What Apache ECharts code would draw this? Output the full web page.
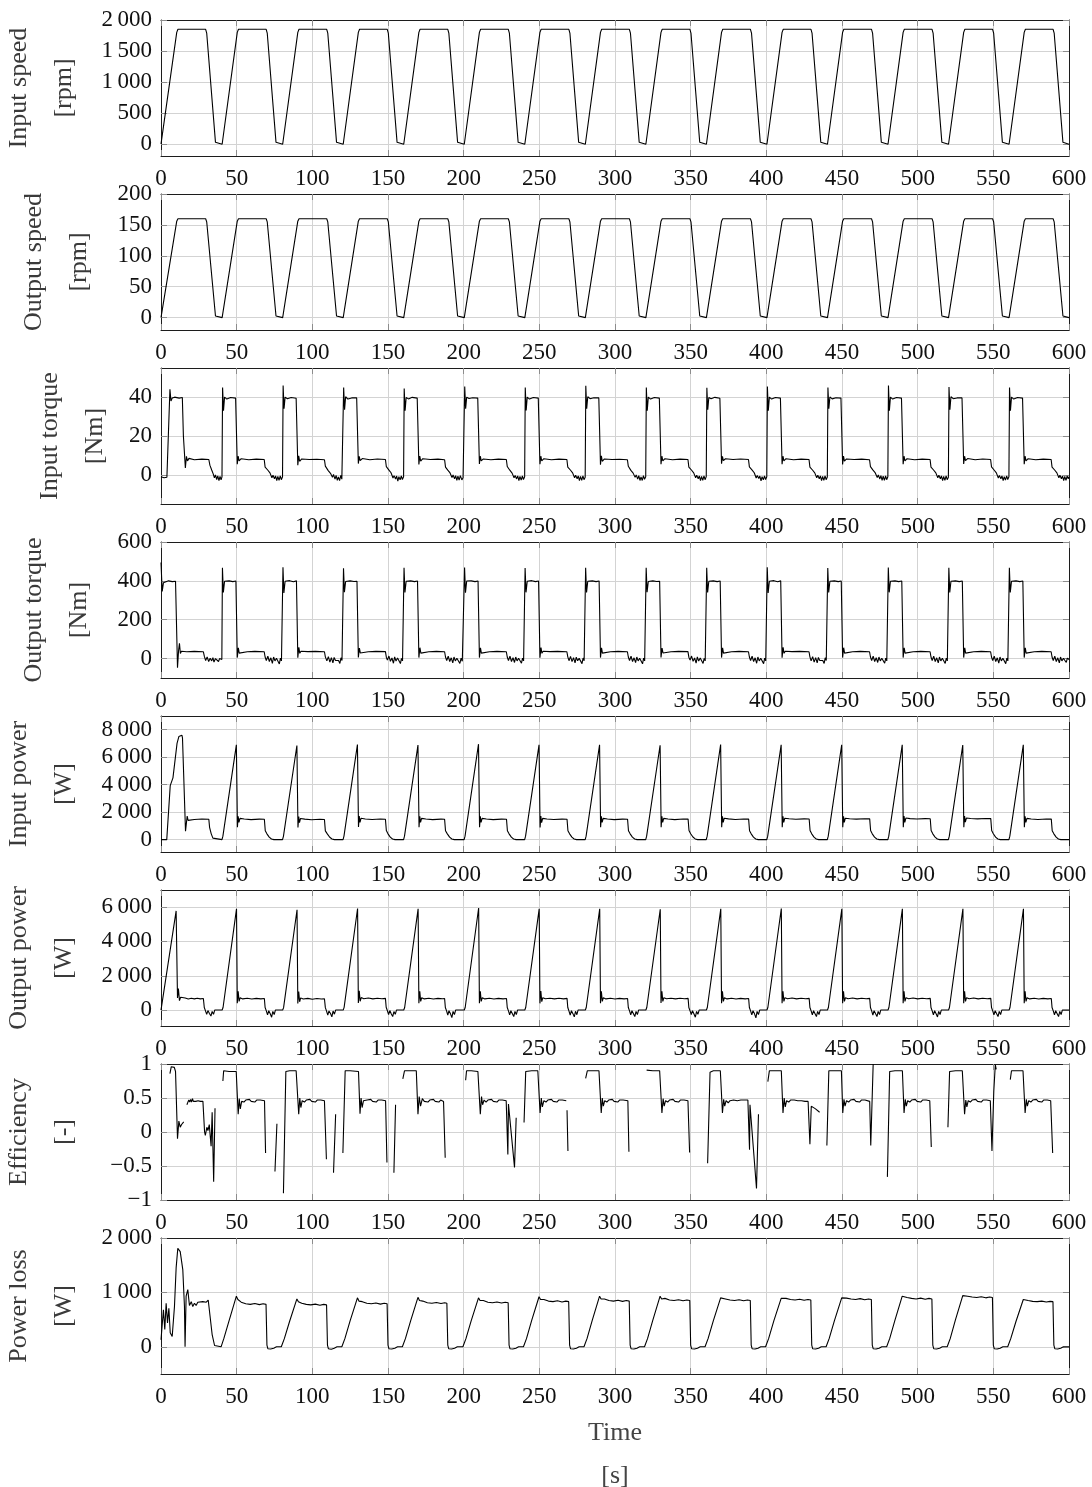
<!DOCTYPE html>
<html>
<head>
<meta charset="utf-8">
<title>Drive cycle measurements</title>
<script src="https://cdn.jsdelivr.net/npm/echarts@6/dist/echarts.min.js"></script>
<style>
  html, body { margin: 0; padding: 0; background: #ffffff; }
  #chart { width: 1092px; height: 1487px; }
</style>
</head>
<body>
<div id="chart"></div>
<script>
// ---------- measured signals (time in s) ----------

// speed profile breakpoints: ramp up, hold, ramp down, standstill (repeated every 40 s)
const speedTime = [
  0, 10.4, 11.2, 29.5, 30.2, 36, 36.7,
  40.4, 50.4, 51.2, 69.5, 70.2, 76, 76.7,
  80.4, 90.4, 91.2, 109.5, 110.2, 116, 116.7,
  120.4, 130.4, 131.2, 149.5, 150.2, 156, 156.7,
  160.4, 170.4, 171.2, 189.5, 190.2, 196, 196.7,
  200.4, 210.4, 211.2, 229.5, 230.2, 236, 236.7,
  240.4, 250.4, 251.2, 269.5, 270.2, 276, 276.7,
  280.4, 290.4, 291.2, 309.5, 310.2, 316, 316.7,
  320.4, 330.4, 331.2, 349.5, 350.2, 356, 356.7,
  360.4, 370.4, 371.2, 389.5, 390.2, 396, 396.7,
  400.4, 410.4, 411.2, 429.5, 430.2, 436, 436.7,
  440.4, 450.4, 451.2, 469.5, 470.2, 476, 476.7,
  480.4, 490.4, 491.2, 509.5, 510.2, 516, 516.7,
  520.4, 530.4, 531.2, 549.5, 550.2, 556, 556.7,
  560.4, 570.4, 571.2, 589.5, 590.2, 596, 596.7,
  600
];

const inputSpeedRpm = [
  0, 1800, 1850, 1850, 1790, 30, 0,
  0, 1800, 1850, 1850, 1790, 30, 0,
  0, 1800, 1850, 1850, 1790, 30, 0,
  0, 1800, 1850, 1850, 1790, 30, 0,
  0, 1800, 1850, 1850, 1790, 30, 0,
  0, 1800, 1850, 1850, 1790, 30, 0,
  0, 1800, 1850, 1850, 1790, 30, 0,
  0, 1800, 1850, 1850, 1790, 30, 0,
  0, 1800, 1850, 1850, 1790, 30, 0,
  0, 1800, 1850, 1850, 1790, 30, 0,
  0, 1800, 1850, 1850, 1790, 30, 0,
  0, 1800, 1850, 1850, 1790, 30, 0,
  0, 1800, 1850, 1850, 1790, 30, 0,
  0, 1800, 1850, 1850, 1790, 30, 0,
  0, 1800, 1850, 1850, 1790, 30, 0,
  0
];

const outputSpeedRpm = [
  0, 156, 160, 160, 155, 2.6, 0,
  0, 156, 160, 160, 155, 2.6, 0,
  0, 156, 160, 160, 155, 2.6, 0,
  0, 156, 160, 160, 155, 2.6, 0,
  0, 156, 160, 160, 155, 2.6, 0,
  0, 156, 160, 160, 155, 2.6, 0,
  0, 156, 160, 160, 155, 2.6, 0,
  0, 156, 160, 160, 155, 2.6, 0,
  0, 156, 160, 160, 155, 2.6, 0,
  0, 156, 160, 160, 155, 2.6, 0,
  0, 156, 160, 160, 155, 2.6, 0,
  0, 156, 160, 160, 155, 2.6, 0,
  0, 156, 160, 160, 155, 2.6, 0,
  0, 156, 160, 160, 155, 2.6, 0,
  0, 156, 160, 160, 155, 2.6, 0,
  0
];

// [time, Nm]
const inputTorque = [
  [0,-1],[1,-0.3],[2,-1.5],[3,-0.5],[3.9,-1.2],[5.9,44],[6.6,38],[7.4,39.5],[9,40],[12,39.5],[14.1,39.8],[14.8,20],[16.1,3.5],[16.8,9.5],[17.5,7.2],[18.5,8.5],[22,7.8],[27,8.1],[31.6,7.9],[32.3,5],[33.5,2.5],[34.5,0.5],[35.3,-1.5],[36,0],[36.8,-2.5],[37.5,-0.5],[38.3,-3],[39,-0.8],[39.7,-2.5],
  [40.3,-1],[40.7,45],[41.3,33],[42,40],[43.5,39],[46,39.8],[49.3,39.5],[50.4,5.5],[51,9.6],[51.6,7.2],[53,8.3],[58,7.8],[63,8.1],[68.2,7.9],[68.8,4],[70.5,2.5],[72,1],[73.3,-1.5],[74,-0.2],[75,-2],[75.7,-0.5],[76.5,-3],[77.2,-0.8],[78,-2.8],[78.8,-0.5],[79.5,-2.5],
  [80.3,-1],[80.7,46],[81.3,34],[82,40],[83.5,39.2],[86,39.8],[89.3,39.4],[90.4,5],[91,9.8],[91.6,7],[93,8.2],[98,7.9],[103,8],[108,7.8],[108.6,4.5],[110.5,2.2],[112,0.8],[113.3,-1.2],[114,0.2],[115,-2.2],[115.7,-0.3],[116.5,-2.8],[117.2,-1],[118,-3],[118.8,-0.3],[119.5,-2.2],
  [120.3,-1.2],[120.7,45],[121.3,33.5],[122,40.2],[123.5,39],[126,39.6],[129.3,39.6],[130.4,5.8],[131,9.5],[131.6,7.3],[133,8.4],[138,7.8],[143,8.2],[148.3,7.9],[148.9,4.2],[150.5,2.6],[152,1.1],[153.3,-1.6],[154,-0.4],[155,-2.1],[155.7,-0.6],[156.5,-3.2],[157.2,-0.9],[158,-2.6],[158.8,-0.6],[159.5,-2.4],
  [160.3,-1],[160.7,44.5],[161.3,33],[162,39.8],[163.5,39.1],[166,39.9],[169.3,39.5],[170.4,5.4],[171,9.7],[171.6,7.1],[173,8.3],[178,7.9],[183,8.1],[187.4,7.8],[188,4],[189.5,2.4],[191,1],[192.3,-1.4],[193,-0.1],[194,-2],[194.7,-0.4],[195.5,-2.9],[196.2,-0.7],[197,-2.7],[197.8,-0.4],[198.8,-2.6],[199.6,-1.5],
  [200.3,-1.1],[200.7,45.5],[201.3,34],[202,40],[203.5,39.3],[206,39.7],[209.3,39.5],[210.4,5.6],[211,9.6],[211.6,7.2],[213,8.2],[218,7.8],[223,8.1],[228.2,7.9],[228.8,4.3],[230.5,2.4],[232,0.9],[233.3,-1.5],[234,-0.3],[235,-2.1],[235.7,-0.5],[236.5,-3],[237.2,-0.8],[238,-2.7],[238.8,-0.6],[239.5,-2.4],
  [240.3,-1],[240.7,45],[241.3,33.2],[242,40],[243.5,39],[246,39.8],[249.3,39.5],[250.4,5.5],[251,9.6],[251.6,7.2],[253,8.3],[258,7.8],[263,8.1],[268.2,7.9],[268.8,4],[270.5,2.5],[272,1],[273.3,-1.5],[274,-0.2],[275,-2],[275.7,-0.5],[276.5,-3],[277.2,-0.8],[278,-2.8],[278.8,-0.5],[279.5,-2.5],
  [280.3,-1.2],[280.7,45.8],[281.3,34],[282,40.2],[283.5,39.2],[286,39.7],[289.3,39.6],[290.4,5.2],[291,9.8],[291.6,7],[293,8.2],[298,7.9],[303,8],[308.2,7.8],[308.8,4.4],[310.5,2.3],[312,0.9],[313.3,-1.3],[314,0],[315,-2.2],[315.7,-0.4],[316.5,-2.9],[317.2,-1],[318,-2.9],[318.8,-0.4],[319.5,-2.3],
  [320.3,-1],[320.7,45],[321.3,33],[322,40],[323.5,39],[326,39.8],[329.3,39.5],[330.4,5.5],[331,9.6],[331.6,7.2],[333,8.3],[338,7.8],[343,8.1],[348.2,7.9],[348.8,4],[350.5,2.5],[352,1],[353.3,-1.5],[354,-0.2],[355,-2],[355.7,-0.5],[356.5,-3],[357.2,-0.8],[358,-2.8],[358.8,-0.5],[359.5,-2.5],
  [360.3,-0.9],[360.7,44.8],[361.3,33.6],[362,39.8],[363.5,39.2],[366,39.9],[369.3,39.4],[370.4,5.7],[371,9.5],[371.6,7.3],[373,8.3],[378,7.9],[383,8.2],[388.2,7.9],[388.8,4.1],[390.5,2.6],[392,1.1],[393.3,-1.6],[394,-0.3],[395,-1.9],[395.7,-0.6],[396.5,-3.1],[397.2,-0.9],[398,-2.6],[398.8,-0.5],[399.5,-2.4],
  [400.3,-1],[400.7,45.5],[401.3,33],[402,40],[403.5,39],[406,39.8],[409.3,39.5],[410.4,5.5],[411,9.6],[411.6,7.2],[413,8.3],[418,7.8],[423,8.1],[428.2,7.9],[428.8,4],[430.5,2.5],[432,1],[433.3,-1.5],[434,-0.2],[435,-2],[435.7,-0.5],[436.5,-3],[437.2,-0.8],[438,-2.8],[438.8,-0.5],[439.5,-2.5],
  [440.3,-1.1],[440.7,45],[441.3,34],[442,40.1],[443.5,39.1],[446,39.7],[449.3,39.5],[450.4,5.4],[451,9.7],[451.6,7.1],[453,8.2],[458,7.9],[463,8.1],[468.2,7.8],[468.8,4.2],[470.5,2.4],[472,1],[473.3,-1.4],[474,-0.1],[475,-2.1],[475.7,-0.4],[476.5,-2.9],[477.2,-0.7],[478,-2.8],[478.8,-0.6],[479.5,-2.5],
  [480.3,-1],[480.7,46],[481.3,33],[482,40],[483.5,39],[486,39.8],[489.3,39.5],[490.4,5.5],[491,9.6],[491.6,7.2],[493,8.3],[498,7.8],[503,8.1],[508.2,7.9],[508.8,4],[510.5,2.5],[512,1],[513.3,-1.5],[514,-0.2],[515,-2],[515.7,-0.5],[516.5,-3],[517.2,-0.8],[518,-2.8],[518.8,-0.5],[519.5,-2.5],
  [520.3,-1.2],[520.7,45.2],[521.3,33.5],[522,40.2],[523.5,39.2],[526,39.6],[529.3,39.6],[530.4,5.6],[531,9.6],[531.6,7.3],[533,8.4],[538,7.8],[543,8.2],[548.2,7.9],[548.8,4.1],[550.5,2.5],[552,1],[553.3,-1.6],[554,-0.3],[555,-2],[555.7,-0.5],[556.5,-3],[557.2,-0.9],[558,-2.7],[558.8,-0.5],[559.5,-2.4],
  [560.3,-1],[560.7,45],[561.3,33],[562,40],[563.5,39],[566,39.8],[569.3,39.5],[570.4,5.5],[571,9.6],[571.6,7.2],[573,8.3],[578,7.8],[583,8.1],[588.2,7.9],[588.8,4],[590.5,2.5],[592,1],[593.3,-1.5],[594,-0.2],[595,-2],[595.7,-0.5],[596.5,-3],[597.2,-0.8],[598,-2.8],[598.8,-0.5],[599.5,-2],[600,-1]
];

// [time, Nm]
const outputTorque = [
  [0,495],[0.8,345],[1.6,390],[2.7,398],[5,400],[7.5,396],[9.6,398],[10.9,-47],[11.6,40],[12.2,78],[12.8,26],[13.5,38],[17,35],[22,37],[28,35],[28.7,10],[29.5,-10],[30.5,8],[31.5,-15],[32.5,2],[33.5,-12],[34.3,5],[35,-18],[36,0],[37,-8],[38,-15],[38.7,0],[39.6,-10],
  [40.2,-5],[40.6,468],[41.2,340],[42,398],[43,392],[45,400],[47.5,396],[49.5,399],[50.4,5],[51.1,55],[51.7,28],[52.5,38],[57,35],[62,37],[68.2,35],[68.8,8],[69.6,-10],[70.6,12],[71.6,-15],[72.6,4],[73.6,-25],[74.4,8],[75.3,-12],[76.3,2],[77.3,-8],[78.2,-28],[78.9,2],[79.6,-12],
  [80.2,-6],[80.6,470],[81.2,338],[82,398],[83,391],[85,401],[87.5,395],[89.5,400],[90.4,4],[91.1,58],[91.7,27],[92.5,38],[97,36],[102,37],[108,35],[108.6,9],[109.6,-12],[110.6,10],[111.6,-18],[112.6,5],[113.6,-22],[114.4,6],[115.3,-10],[116.3,0],[117.3,-10],[118.2,-25],[118.9,4],[119.6,-10],
  [120.2,-5],[120.6,465],[121.2,342],[122,397],[123,393],[125,400],[127.5,397],[129.5,398],[130.4,6],[131.1,54],[131.7,29],[132.5,37],[137,35],[142,37],[148.3,36],[148.9,7],[149.6,-8],[150.6,13],[151.6,-14],[152.6,3],[153.6,-24],[154.4,9],[155.3,-13],[156.3,3],[157.3,-7],[158.2,-26],[158.9,1],[159.6,-12],
  [160.2,-4],[160.6,467],[161.2,340],[162,398],[163,392],[165,400],[167.5,396],[169.5,399],[170.4,5],[171.1,56],[171.7,28],[172.5,38],[177,35],[182,37],[187.4,35],[188,8],[188.8,-10],[189.8,12],[190.8,-15],[191.8,4],[192.8,-22],[193.6,8],[194.5,-12],[195.5,2],[196.5,-8],[197.5,-25],[198.3,2],[199.1,-14],[199.7,-6],
  [200.2,-5],[200.6,469],[201.2,339],[202,399],[203,392],[205,400],[207.5,396],[209.5,399],[210.4,5],[211.1,55],[211.7,28],[212.5,38],[217,35],[222,37],[228.2,35],[228.8,8],[229.6,-10],[230.6,12],[231.6,-15],[232.6,4],[233.6,-20],[234.4,8],[235.3,-12],[236.3,2],[237.3,-8],[238.2,-24],[238.9,2],[239.6,-12],
  [240.2,-6],[240.6,466],[241.2,341],[242,398],[243,391],[245,401],[247.5,396],[249.5,399],[250.4,4],[251.1,57],[251.7,27],[252.5,38],[257,36],[262,37],[268.2,35],[268.8,9],[269.6,-11],[270.6,11],[271.6,-16],[272.6,5],[273.6,-22],[274.4,7],[275.3,-11],[276.3,1],[277.3,-9],[278.2,-26],[278.9,3],[279.6,-11],
  [280.2,-5],[280.6,468],[281.2,340],[282,398],[283,392],[285,400],[287.5,396],[289.5,399],[290.4,5],[291.1,55],[291.7,28],[292.5,38],[297,35],[302,37],[308.2,35],[308.8,8],[309.6,-10],[310.6,12],[311.6,-15],[312.6,4],[313.6,-21],[314.4,8],[315.3,-12],[316.3,2],[317.3,-8],[318.2,-27],[318.9,2],[319.6,-12],
  [320.2,-5],[320.6,467],[321.2,342],[322,397],[323,393],[325,400],[327.5,397],[329.5,398],[330.4,6],[331.1,54],[331.7,29],[332.5,37],[337,35],[342,37],[348.2,36],[348.8,7],[349.6,-8],[350.6,13],[351.6,-14],[352.6,3],[353.6,-23],[354.4,9],[355.3,-13],[356.3,3],[357.3,-7],[358.2,-25],[358.9,1],[359.6,-12],
  [360.2,-5],[360.6,468],[361.2,340],[362,398],[363,392],[365,400],[367.5,396],[369.5,399],[370.4,5],[371.1,55],[371.7,28],[372.5,38],[377,35],[382,37],[388.2,35],[388.8,8],[389.6,-10],[390.6,12],[391.6,-15],[392.6,4],[393.6,-24],[394.4,8],[395.3,-12],[396.3,2],[397.3,-8],[398.2,-26],[398.9,2],[399.6,-12],
  [400.2,-6],[400.6,470],[401.2,338],[402,398],[403,391],[405,401],[407.5,395],[409.5,400],[410.4,4],[411.1,58],[411.7,27],[412.5,38],[417,36],[422,37],[428.2,35],[428.8,9],[429.6,-12],[430.6,10],[431.6,-18],[432.6,5],[433.6,-22],[434.4,6],[435.3,-10],[436.3,0],[437.3,-10],[438.2,-25],[438.9,4],[439.6,-10],
  [440.2,-5],[440.6,466],[441.2,340],[442,398],[443,392],[445,400],[447.5,396],[449.5,399],[450.4,5],[451.1,56],[451.7,28],[452.5,38],[457,35],[462,37],[468.2,35],[468.8,8],[469.6,-10],[470.6,12],[471.6,-15],[472.6,4],[473.6,-20],[474.4,8],[475.3,-12],[476.3,2],[477.3,-8],[478.2,-24],[478.9,2],[479.6,-12],
  [480.2,-4],[480.6,469],[481.2,341],[482,398],[483,392],[485,400],[487.5,396],[489.5,399],[490.4,5],[491.1,55],[491.7,28],[492.5,38],[497,35],[502,37],[508.2,35],[508.8,8],[509.6,-10],[510.6,12],[511.6,-15],[512.6,4],[513.6,-22],[514.4,8],[515.3,-12],[516.3,2],[517.3,-8],[518.2,-25],[518.9,2],[519.6,-12],
  [520.2,-5],[520.6,467],[521.2,340],[522,398],[523,392],[525,400],[527.5,396],[529.5,399],[530.4,5],[531.1,55],[531.7,28],[532.5,38],[537,35],[542,37],[548.2,35],[548.8,8],[549.6,-10],[550.6,12],[551.6,-15],[552.6,4],[553.6,-23],[554.4,8],[555.3,-12],[556.3,2],[557.3,-8],[558.2,-26],[558.9,2],[559.6,-12],
  [560.2,-5],[560.6,468],[561.2,340],[562,398],[563,392],[565,400],[567.5,396],[569.5,399],[570.4,5],[571.1,55],[571.7,28],[572.5,38],[577,35],[582,37],[588.2,35],[588.8,8],[589.6,-10],[590.6,12],[591.6,-15],[592.6,4],[593.6,-22],[594.4,8],[595.3,-12],[596.3,2],[597.3,-8],[598.2,-20],[598.9,2],[600,-5]
];

// [time, W]
const inputPower = [
  [0,0],[3.8,0],[6.1,3930],[7.9,4500],[10.6,7010],[11.8,7500],[12.8,7620],[13.8,7600],[14.2,7400],[16.2,610],[17.3,1720],[17.9,1400],[18.8,1520],[22,1470],[27,1500],[31.6,1480],[32.1,900],[33.2,420],[34.3,110],[35.4,0],
  [40.3,0],[40.9,250],[49.8,6900],[50.5,900],[51,1700],[51.5,1250],[52.2,1550],[53,1450],[55,1500],[59.5,1460],[65,1490],[68.3,1480],[68.9,650],[70,420],[71.5,180],[73,50],[74.6,0],
  [80.3,0],[80.9,240],[89.8,6850],[90.5,880],[91,1680],[91.5,1230],[92.2,1540],[93,1440],[95,1490],[99.5,1450],[105,1480],[108,1470],[108.6,640],[110,400],[111.5,170],[113,45],[114.6,0],
  [120.3,0],[120.9,260],[129.8,6920],[130.5,920],[131,1720],[131.5,1260],[132.2,1560],[133,1460],[135,1500],[139.5,1470],[145,1500],[148.3,1480],[148.9,660],[150,420],[151.5,180],[153,50],[154.6,0],
  [160.3,0],[160.9,250],[169.8,6880],[170.5,900],[171,1700],[171.5,1250],[172.2,1550],[173,1450],[175,1500],[179.5,1460],[185,1490],[187.4,1480],[188,650],[189.2,420],[190.7,180],[192.2,50],[193.8,0],
  [200.3,0],[200.9,250],[209.8,6950],[210.5,900],[211,1700],[211.5,1250],[212.2,1550],[213,1450],[215,1500],[219.5,1460],[225,1490],[228.3,1480],[228.9,650],[230,420],[231.5,180],[233,50],[234.6,0],
  [240.3,0],[240.9,250],[249.8,6900],[250.5,880],[251,1710],[251.5,1240],[252.2,1550],[253,1460],[255,1500],[259.5,1470],[265,1490],[268.3,1480],[268.9,650],[270,420],[271.5,180],[273,50],[274.6,0],
  [280.3,0],[280.9,250],[289.8,6900],[290.5,900],[291,1700],[291.5,1250],[292.2,1550],[293,1450],[295,1500],[299.5,1460],[305,1490],[308.3,1480],[308.9,650],[310,420],[311.5,180],[313,50],[314.6,0],
  [320.3,0],[320.9,250],[329.8,6870],[330.5,910],[331,1700],[331.5,1260],[332.2,1550],[333,1450],[335,1500],[339.5,1460],[345,1500],[348.3,1490],[348.9,660],[350,430],[351.5,190],[353,50],[354.6,0],
  [360.3,0],[360.9,250],[369.8,6920],[370.5,900],[371,1700],[371.5,1250],[372.2,1560],[373,1460],[375,1510],[379.5,1470],[385,1500],[388.3,1490],[388.9,650],[390,420],[391.5,180],[393,50],[394.6,0],
  [400.3,0],[400.9,250],[409.8,6900],[410.5,900],[411,1700],[411.5,1250],[412.2,1560],[413,1470],[415,1520],[419.5,1480],[425,1510],[428.3,1500],[428.9,660],[430,420],[431.5,180],[433,50],[434.6,0],
  [440.3,0],[440.9,250],[449.8,6900],[450.5,900],[451,1700],[451.5,1260],[452.2,1560],[453,1470],[455,1520],[459.5,1490],[465,1520],[468.3,1510],[468.9,660],[470,420],[471.5,180],[473,50],[474.6,0],
  [480.3,0],[480.9,250],[489.8,6900],[490.5,900],[491,1720],[491.5,1260],[492.2,1570],[493,1480],[495,1530],[499.5,1500],[505,1530],[508.3,1520],[508.9,660],[510,420],[511.5,180],[513,50],[514.6,0],
  [520.3,0],[520.9,250],[529.8,6880],[530.5,900],[531,1720],[531.5,1270],[532.2,1570],[533,1490],[535,1540],[539.5,1510],[545,1540],[548.3,1530],[548.9,670],[550,430],[551.5,180],[553,50],[554.6,0],
  [560.3,0],[560.9,250],[569.8,6900],[570.5,900],[571,1700],[571.5,1250],[572.2,1550],[573,1460],[575,1500],[579.5,1470],[585,1500],[588.3,1490],[588.9,650],[590,420],[591.5,180],[593,50],[594.6,0],[600,0]
];

// [time, W]
const outputPower = [
  [0,0],[10,5780],[10.9,700],[11.5,1250],[12.2,550],[13,750],[14,650],[16,700],[18,640],[20,690],[22,650],[24,690],[26,650],[28,670],[28.6,150],[29.4,-50],[30.2,-250],[31,-30],[32,-200],[33,-350],[33.8,-80],[34.7,-250],[35.5,0],
  [40.4,0],[41,150],[49.9,5900],[50.4,400],[51,1100],[51.6,500],[52.3,720],[54,650],[57,690],[60,640],[63,680],[66,650],[68.3,670],[68.8,150],[69.6,-50],[70.4,-280],[71.2,-40],[72.2,-220],[73.1,-420],[73.9,-80],[74.8,-260],[75.6,0],
  [80.4,0],[81,140],[89.9,5850],[90.4,380],[91,1080],[91.6,480],[92.3,710],[94,640],[97,680],[100,630],[103,670],[106,640],[108,660],[108.6,140],[109.4,-60],[110.2,-300],[111,-50],[112,-200],[112.9,-400],[113.7,-60],[114.6,-240],[115.4,0],
  [120.4,0],[121,160],[129.9,5920],[130.4,410],[131,1120],[131.6,510],[132.3,730],[134,660],[137,700],[140,650],[143,690],[146,660],[148.3,680],[148.8,160],[149.6,-40],[150.4,-270],[151.2,-30],[152.2,-230],[153.1,-380],[153.9,-90],[154.8,-250],[155.6,0],
  [160.4,0],[161,150],[169.9,5900],[170.4,400],[171,1100],[171.6,500],[172.3,720],[174,650],[177,690],[180,640],[183,680],[186,660],[187.4,670],[187.9,150],[188.7,-50],[189.5,-290],[190.3,-40],[191.3,-220],[192.2,-440],[193,-80],[193.9,-260],[194.7,0],
  [200.4,0],[201,150],[209.9,5950],[210.4,400],[211,1100],[211.6,500],[212.3,720],[214,650],[217,690],[220,640],[223,680],[226,650],[228.3,670],[228.8,150],[229.6,-50],[230.4,-280],[231.2,-40],[232.2,-220],[233.1,-380],[233.9,-80],[234.8,-260],[235.6,0],
  [240.4,0],[241,150],[249.9,5900],[250.4,390],[251,1110],[251.6,490],[252.3,720],[254,660],[257,690],[260,650],[263,690],[266,650],[268.3,680],[268.8,150],[269.6,-60],[270.4,-300],[271.2,-40],[272.2,-210],[273.1,-400],[273.9,-70],[274.8,-270],[275.6,0],
  [280.4,0],[281,150],[289.9,5900],[290.4,400],[291,1100],[291.6,500],[292.3,720],[294,650],[297,690],[300,640],[303,680],[306,650],[308.3,670],[308.8,150],[309.6,-50],[310.4,-280],[311.2,-40],[312.2,-220],[313.1,-380],[313.9,-80],[314.8,-260],[315.6,0],
  [320.4,0],[321,150],[329.9,5880],[330.4,410],[331,1090],[331.6,500],[332.3,720],[334,660],[337,690],[340,650],[343,690],[346,660],[348.3,680],[348.8,150],[349.6,-50],[350.4,-260],[351.2,-40],[352.2,-230],[353.1,-420],[353.9,-80],[354.8,-250],[355.6,0],
  [360.4,0],[361,150],[369.9,5900],[370.4,400],[371,1100],[371.6,500],[372.3,720],[374,650],[377,690],[380,640],[383,680],[386,650],[388.3,670],[388.8,150],[389.6,-50],[390.4,-280],[391.2,-40],[392.2,-220],[393.1,-460],[393.9,-80],[394.8,-260],[395.6,0],
  [400.4,0],[401,150],[409.9,5920],[410.4,400],[411,1100],[411.6,500],[412.3,720],[414,660],[417,700],[420,650],[423,690],[426,660],[428.3,680],[428.8,150],[429.6,-50],[430.4,-280],[431.2,-40],[432.2,-220],[433.1,-380],[433.9,-80],[434.8,-260],[435.6,0],
  [440.4,0],[441,150],[449.9,5900],[450.4,400],[451,1100],[451.6,500],[452.3,720],[454,660],[457,700],[460,650],[463,690],[466,660],[468.3,680],[468.8,150],[469.6,-50],[470.4,-300],[471.2,-40],[472.2,-220],[473.1,-380],[473.9,-80],[474.8,-260],[475.6,0],
  [480.4,0],[481,150],[489.9,5900],[490.4,400],[491,1100],[491.6,500],[492.3,720],[494,660],[497,700],[500,650],[503,690],[506,660],[508.3,680],[508.8,150],[509.6,-50],[510.4,-280],[511.2,-40],[512.2,-220],[513.1,-400],[513.9,-80],[514.8,-260],[515.6,0],
  [520.4,0],[521,150],[529.9,5900],[530.4,400],[531,1100],[531.6,500],[532.3,720],[534,660],[537,700],[540,650],[543,690],[546,660],[548.3,680],[548.8,150],[549.6,-50],[550.4,-280],[551.2,-40],[552.2,-220],[553.1,-380],[553.9,-80],[554.8,-260],[555.6,0],
  [560.4,0],[561,150],[569.9,5900],[570.4,400],[571,1100],[571.6,500],[572.3,720],[574,650],[577,690],[580,640],[583,680],[586,650],[588.3,670],[588.8,150],[589.6,-50],[590.4,-280],[591.2,-40],[592.2,-220],[593.1,-380],[593.9,-80],[594.8,-260],[595.6,0],[600,0]
];

// [time, -]; null leaves a gap where the ratio is undefined
const efficiency = [
  [5.9,0.86],[6.8,0.96],[7.8,0.985],[8.8,0.95],[9.6,0.89],[10.9,-0.1],[11.8,0.16],[12.7,0.07],[13.6,0.11],[15,0.15],[15.1,null],
  [17.1,0.4],[17.8,0.44],[18.4,0.47],[19,0.44],[19.6,0.48],[20.2,0.44],[20.8,0.49],[21.4,0.45],[22,0.47],[23,0.45],[24.5,0.46],[26,0.45],[27.7,0.45],[28.8,0],[29.3,-0.05],[30.3,0.07],[31,0.02],[31.9,0.11],[33.1,-0.21],[33.8,0.29],[34.8,-0.73],[35.7,0.35],[35.8,null],
  [40.9,0.75],[41.4,0.9],[45,0.89],[49.7,0.89],[51,0.26],[51.7,0.49],[52.4,0.34],[53.3,0.45],[54.8,0.44],[56,0.47],[57.2,0.45],[58.4,0.48],[59.6,0.45],[60.8,0.47],[62,0.44],[63.2,0.47],[64.4,0.45],[65.6,0.47],[66.8,0.45],[68.4,0.46],[69.1,-0.31],[69.2,null],
  [75.3,-0.58],[76.6,0.12],[76.7,null],
  [80.9,-0.9],[82.5,0.89],[85,0.9],[89.3,0.9],[91,0.26],[91.7,0.5],[92.4,0.36],[93.3,0.46],[94.8,0.44],[96,0.47],[97.2,0.45],[98.4,0.48],[99.6,0.45],[100.8,0.47],[102,0.44],[103.2,0.47],[104.4,0.45],[105.6,0.47],[106.8,0.45],[108,0.46],[109.3,-0.4],[109.4,null],
  [114,-0.6],[115.4,0.26],[115.5,null],
  [120.2,-0.31],[121.7,0.9],[125,0.9],[130.5,0.89],[131.5,0.27],[132.2,0.5],[132.9,0.36],[133.8,0.46],[135,0.44],[136.2,0.47],[137.4,0.45],[138.6,0.48],[139.8,0.45],[141,0.47],[142.2,0.44],[143.4,0.47],[144.6,0.45],[145.8,0.47],[147,0.45],[148.4,0.46],[149.3,-0.45],[149.4,null],
  [153.9,-0.6],[155,0.4],[155.1,null],
  [159.8,0.78],[160.9,0.9],[165,0.9],[168.7,0.9],[169.8,0.26],[170.6,0.52],[171.5,0.38],[172.7,0.49],[174,0.45],[175.2,0.47],[176.4,0.44],[177.6,0.47],[178.8,0.45],[180,0.48],[181.2,0.45],[182.4,0.47],[183.6,0.44],[184.8,0.47],[186,0.45],[186.7,0.45],[187.8,-0.38],[187.9,null],
  [201.3,0.76],[201.9,0.9],[205,0.9],[209.4,0.89],[211,0.26],[211.8,0.52],[212.5,0.4],[213.5,0.47],[214.8,0.44],[216,0.47],[217.2,0.45],[218.4,0.48],[219.6,0.45],[220.8,0.47],[222,0.44],[223.2,0.47],[224.4,0.45],[225.6,0.47],[226.8,0.45],[228.1,0.46],[229.2,-0.33],[229.6,0.41],[233.6,-0.52],[234.7,0.21],[234.8,null],
  [239.9,0.14],[241,0.89],[245,0.9],[249,0.9],[250.5,0.28],[251.3,0.5],[252,0.37],[253,0.46],[254.4,0.44],[255.6,0.47],[256.8,0.45],[258,0.48],[259.2,0.45],[260.4,0.47],[261.6,0.44],[262.8,0.47],[264,0.45],[265.2,0.47],[266.4,0.45],[267.8,0.46],[267.9,null],[268.3,0.32],[268.9,-0.28],[269,null],
  [280.6,0.79],[281.7,0.9],[285,0.9],[289.4,0.9],[290.9,0.28],[291.6,0.5],[292.3,0.38],[293.2,0.46],[294.6,0.44],[295.8,0.47],[297,0.45],[298.2,0.48],[299.4,0.45],[300.6,0.47],[301.8,0.44],[303,0.47],[304.2,0.45],[305.4,0.47],[306.6,0.45],[308.5,0.46],[309.2,-0.29],[309.3,null],
  [320.9,0.91],[325,0.9],[329.5,0.9],[331,0.28],[331.8,0.49],[332.5,0.38],[333.4,0.46],[334.8,0.44],[336,0.47],[337.2,0.45],[338.4,0.48],[339.6,0.45],[340.8,0.47],[342,0.44],[343.2,0.47],[344.4,0.45],[345.6,0.47],[346.8,0.45],[348.2,0.46],[349.3,-0.3],[349.4,null],
  [361.2,-0.46],[362.8,0.88],[365,0.9],[369.6,0.9],[371,0.28],[371.8,0.48],[372.5,0.38],[373.4,0.46],[374.8,0.43],[376,0.46],[377.2,0.44],[378.4,0.47],[379.6,0.45],[380.8,0.46],[382,0.44],[383.2,0.47],[384.4,0.45],[385.6,0.47],[386.8,0.46],[387.8,0.47],[388.9,-0.26],[389.2,0.4],[393.5,-0.83],[394.8,0.26],[394.9,null],
  [401,0.74],[402,0.9],[405,0.9],[409.9,0.9],[411,0.28],[411.8,0.5],[412.5,0.37],[413.4,0.46],[414.8,0.44],[416,0.47],[417.2,0.45],[418.4,0.47],[419.6,0.45],[420.8,0.46],[422,0.44],[423.2,0.46],[424.4,0.44],[425.6,0.45],[426.8,0.43],[427.6,0.45],[428.8,-0.18],[429.7,0.38],[432.5,0.34],[435.2,0.29],[435.3,null],
  [440,-0.2],[441.3,0.9],[445,0.9],[449.6,0.9],[450.5,0.28],[451.3,0.48],[452,0.38],[453,0.46],[454.4,0.44],[455.6,0.47],[456.8,0.45],[458,0.48],[459.2,0.45],[460.4,0.47],[461.6,0.44],[462.8,0.47],[464,0.45],[465.2,0.47],[466.4,0.45],[468.3,0.45],[469,-0.2],[470.6,1],[470.7,null],
  [480,-0.66],[481.5,0.89],[485,0.9],[489.9,0.9],[491,0.28],[491.8,0.48],[492.5,0.38],[493.4,0.46],[494.8,0.44],[496,0.47],[497.2,0.45],[498.4,0.48],[499.6,0.45],[500.8,0.47],[502,0.44],[503.2,0.47],[504.4,0.45],[505.6,0.47],[506.8,0.45],[508,0.46],[509,-0.22],[509.1,null],
  [520,0.07],[521.1,0.89],[525,0.9],[529.5,0.9],[531,0.26],[531.8,0.47],[532.5,0.37],[533.4,0.46],[534.8,0.44],[536,0.47],[537.2,0.45],[538.4,0.48],[539.6,0.45],[540.8,0.47],[542,0.44],[543.2,0.47],[544.4,0.45],[545.6,0.47],[546.8,0.45],[548,0.46],[549.1,-0.28],[550.3,0.6],[551.3,0.99],[551.9,0.92],[552,null],
  [561.2,0.77],[562,0.9],[565,0.9],[569.6,0.9],[571,0.28],[571.8,0.48],[572.5,0.38],[573.4,0.46],[574.8,0.44],[576,0.47],[577.2,0.45],[578.4,0.48],[579.6,0.45],[580.8,0.47],[582,0.44],[583.2,0.47],[584.4,0.45],[585.6,0.47],[586.8,0.45],[587.9,0.46],[589.2,-0.31]
];

// [time, W]
const powerLoss = [
  [0,130],[0.8,130],[1.6,680],[2.5,320],[3.4,800],[4.3,440],[5.2,710],[6.1,260],[7.4,190],[8.9,740],[10,1450],[11.1,1810],[12.7,1750],[14.4,1420],[15.5,740],[15.9,0],[16.6,930],[17.7,1050],[18.8,760],[20,830],[21,740],[22.1,800],[23.2,760],[24.3,820],[25.4,790],[27.6,830],[29.9,820],[31.2,860],[32,880],[33.8,225],[35.4,24],[36.5,0],[39.7,0],
  [40,0],[41.5,150],[45,480],[49.8,930],[50.8,870],[53,820],[56,790],[59,780],[62,795],[65,775],[67.5,790],[69.4,780],[70,30],[70.6,-35],[72.5,-40],[74.5,-25],[76.3,0],[79.5,0],
  [80,0],[81.5,150],[85,470],[89.8,880],[90.8,830],[93,800],[96,780],[99,770],[102,785],[105,765],[107.5,780],[109.4,770],[110,30],[110.6,-35],[112.5,-45],[114.5,-25],[116.3,0],[119.5,0],
  [120,0],[121.5,150],[125,480],[129.8,900],[130.8,840],[133,830],[136,800],[139,790],[142,805],[145,785],[147.5,800],[149.4,790],[150,30],[150.6,-35],[152.5,-40],[154.5,-25],[156.3,0],[159.5,0],
  [160,0],[161.5,150],[165,480],[169.8,910],[170.8,850],[173,840],[176,810],[179,800],[182,815],[185,795],[187.5,810],[188.9,800],[189.5,30],[190.1,-35],[192,-40],[194,-25],[195.8,0],[199.5,0],
  [200,0],[201.5,150],[205,480],[209.8,900],[210.8,850],[213,850],[216,820],[219,810],[222,825],[225,805],[227.5,820],[229.4,810],[230,30],[230.6,-35],[232.5,-40],[234.5,-25],[236.3,0],[239.5,0],
  [240,0],[241.5,150],[245,490],[249.8,920],[250.8,870],[253,870],[256,840],[259,830],[262,845],[265,825],[267.5,840],[269.4,830],[270,30],[270.6,-35],[272.5,-40],[274.5,-25],[276.3,0],[279.5,0],
  [280,0],[281.5,150],[285,490],[289.8,930],[290.8,880],[293,880],[296,850],[299,840],[302,855],[305,835],[307.5,850],[309.4,840],[310,30],[310.6,-35],[312.5,-40],[314.5,-25],[316.3,0],[319.5,0],
  [320,0],[321.5,150],[325,490],[329.8,930],[330.8,880],[333,890],[336,860],[339,850],[342,865],[345,845],[347.5,860],[349.4,850],[350,30],[350.6,-35],[352.5,-40],[354.5,-25],[356.3,0],[359.5,0],
  [360,0],[361.5,150],[365,480],[369.8,900],[370.8,870],[373,880],[376,860],[379,850],[382,865],[385,845],[387.5,860],[389.4,850],[390,30],[390.6,-35],[392.5,-40],[394.5,-25],[396.3,0],[399.5,0],
  [400,0],[401.5,150],[405,480],[409.8,890],[410.8,870],[413,890],[416,870],[419,860],[422,875],[425,855],[427.5,870],[429.4,860],[430,30],[430.6,-35],[432.5,-40],[434.5,-25],[436.3,0],[439.5,0],
  [440,0],[441.5,150],[445,480],[449.8,900],[450.8,880],[453,895],[456,880],[459,870],[462,885],[465,865],[467.5,880],[469.4,870],[470,30],[470.6,-35],[472.5,-40],[474.5,-25],[476.3,0],[479.5,0],
  [480,0],[481.5,150],[485,490],[489.8,930],[490.8,900],[493,905],[496,890],[499,880],[502,895],[505,875],[507.5,890],[509.4,880],[510,30],[510.6,-35],[512.5,-40],[514.5,-25],[516.3,0],[519.5,0],
  [520,0],[521.5,150],[525,500],[529.8,940],[530.8,920],[533,930],[536,915],[539,905],[542,920],[545,900],[547.5,915],[549.4,905],[550,30],[550.6,-35],[552.5,-40],[554.5,-25],[556.3,0],[559.5,0],
  [560,0],[561.5,150],[565,470],[569.8,870],[570.8,850],[573,850],[576,835],[579,830],[582,840],[585,825],[587.5,835],[589.4,830],[590,30],[590.6,-35],[592.5,-40],[594.5,-25],[596.3,0],[600,0]
];

// ---------- tick values of each vertical axis ----------
const inputSpeedTicks   = [0, 500, 1000, 1500, 2000];
const outputSpeedTicks  = [0, 50, 100, 150, 200];
const inputTorqueTicks  = [0, 20, 40];
const outputTorqueTicks = [0, 200, 400, 600];
const inputPowerTicks   = [0, 2000, 4000, 6000, 8000];
const outputPowerTicks  = [0, 2000, 4000, 6000];
const efficiencyTicks   = [-1, -0.5, 0, 0.5, 1];
const powerLossTicks    = [0, 1000, 2000];

// ---------- layout ----------
const FONT = '"Liberation Serif", "Times New Roman", Times, serif';
const LEFT = 161, RIGHT = 23, TOP0 = 20, STEP = 174, PANEL_H = 136;

function pairUp(xs, ys) { return xs.map((x, i) => [x, ys[i]]); }

// numbers are typeset with a thin-space thousands separator and a true minus sign
function fmt(v) {
  const a = Math.abs(v);
  let s = String(a);
  if (a >= 1000) s = s.replace(/\B(?=(\d{3})+(?!\d))/g, '\u2009');
  return (v < 0 ? '\u2212' : '') + s;
}

const panels = [
  { label: 'Input speed\n[rpm]',  data: pairUp(speedTime, inputSpeedRpm),  range: [-190, 2000], ticks: inputSpeedTicks,   gap: 74 },
  { label: 'Output speed\n[rpm]', data: pairUp(speedTime, outputSpeedRpm), range: [-20, 200],   ticks: outputSpeedTicks,  gap: 59 },
  { label: 'Input torque\n[Nm]',  data: inputTorque,  range: [-15, 55],    ticks: inputTorqueTicks,  gap: 42 },
  { label: 'Output torque\n[Nm]', data: outputTorque, range: [-100, 600],  ticks: outputTorqueTicks, gap: 59 },
  { label: 'Input power\n[W]',    data: inputPower,   range: [-900, 9000], ticks: inputPowerTicks,   gap: 74 },
  { label: 'Output power\n[W]',   data: outputPower,  range: [-930, 7000], ticks: outputPowerTicks,  gap: 74 },
  { label: 'Efficiency\n[-]',     data: efficiency,   range: [-1, 1],      ticks: efficiencyTicks,   gap: 74 },
  { label: 'Power loss\n[W]',     data: powerLoss,    range: [-500, 2000], ticks: powerLossTicks,    gap: 74 }
];

const AXIS_COLOR = '#1c1c1c';
const TICK_COLOR = '#8c8c8c';
const GRID_COLOR = '#d3d3d3';

const grids = [], xAxes = [], yAxes = [], series = [];

panels.forEach((p, i) => {
  const last = i === panels.length - 1;
  grids.push({ left: LEFT, right: RIGHT, top: TOP0 + STEP * i, height: PANEL_H, containLabel: false, outerBoundsMode: 'none' });

  const xCommon = () => ({
    gridIndex: i, type: 'value', min: 0, max: 600, interval: 50,
    axisLine: { show: true, onZero: false, lineStyle: { color: AXIS_COLOR, width: 1 } },
    axisTick: { show: true, inside: true, length: 6, lineStyle: { color: TICK_COLOR, width: 1 } }
  });
  xAxes.push(Object.assign(xCommon(), {
    position: 'bottom',
    axisLabel: { show: true, margin: 11, fontFamily: FONT, fontSize: 23, color: '#111', lineHeight: 23 },
    splitLine: { show: true, lineStyle: { color: GRID_COLOR, width: 1 } },
    name: last ? 'Time\n[s]' : '',
    nameLocation: 'middle',
    nameGap: 38,
    nameTextStyle: { fontFamily: FONT, fontSize: 26, lineHeight: 43, color: '#444' }
  }));
  xAxes.push(Object.assign(xCommon(), {
    position: 'top',
    axisLabel: { show: false },
    splitLine: { show: false }
  }));

  const yCommon = () => ({
    gridIndex: i, type: 'value', min: p.range[0], max: p.range[1],
    axisLine: { show: true, onZero: false, lineStyle: { color: AXIS_COLOR, width: 1 } },
    axisTick: { show: true, inside: true, length: 6, customValues: p.ticks, lineStyle: { color: TICK_COLOR, width: 1 } }
  });
  yAxes.push(Object.assign(yCommon(), {
    position: 'left',
    axisLabel: { show: true, customValues: p.ticks, formatter: fmt, margin: 9, fontFamily: FONT, fontSize: 23, color: '#111' },
    splitLine: { show: true, lineStyle: { color: GRID_COLOR, width: 1 } },
    name: p.label,
    nameLocation: 'middle',
    nameRotate: 90,
    nameGap: p.gap,
    nameTextStyle: { fontFamily: FONT, fontSize: 26, lineHeight: 45, color: '#3a3a3a', align: 'center' }
  }));
  yAxes.push(Object.assign(yCommon(), {
    position: 'right',
    axisLabel: { show: false },
    splitLine: { show: false }
  }));

  series.push({
    type: 'line',
    xAxisIndex: 2 * i,
    yAxisIndex: 2 * i,
    data: p.data.map(d => [d[0], d[1] === null ? '-' : d[1]]),
    showSymbol: false,
    symbol: 'none',
    connectNulls: false,
    clip: true,
    lineStyle: { color: '#000', width: 1.1 },
    emphasis: { disabled: true },
    silent: true
  });
});

const chart = echarts.init(document.getElementById('chart'), null, { renderer: 'canvas', width: 1092, height: 1487 });
chart.setOption({
  animation: false,
  backgroundColor: '#ffffff',
  grid: grids,
  xAxis: xAxes,
  yAxis: yAxes,
  series: series
});
</script>
</body>
</html>
